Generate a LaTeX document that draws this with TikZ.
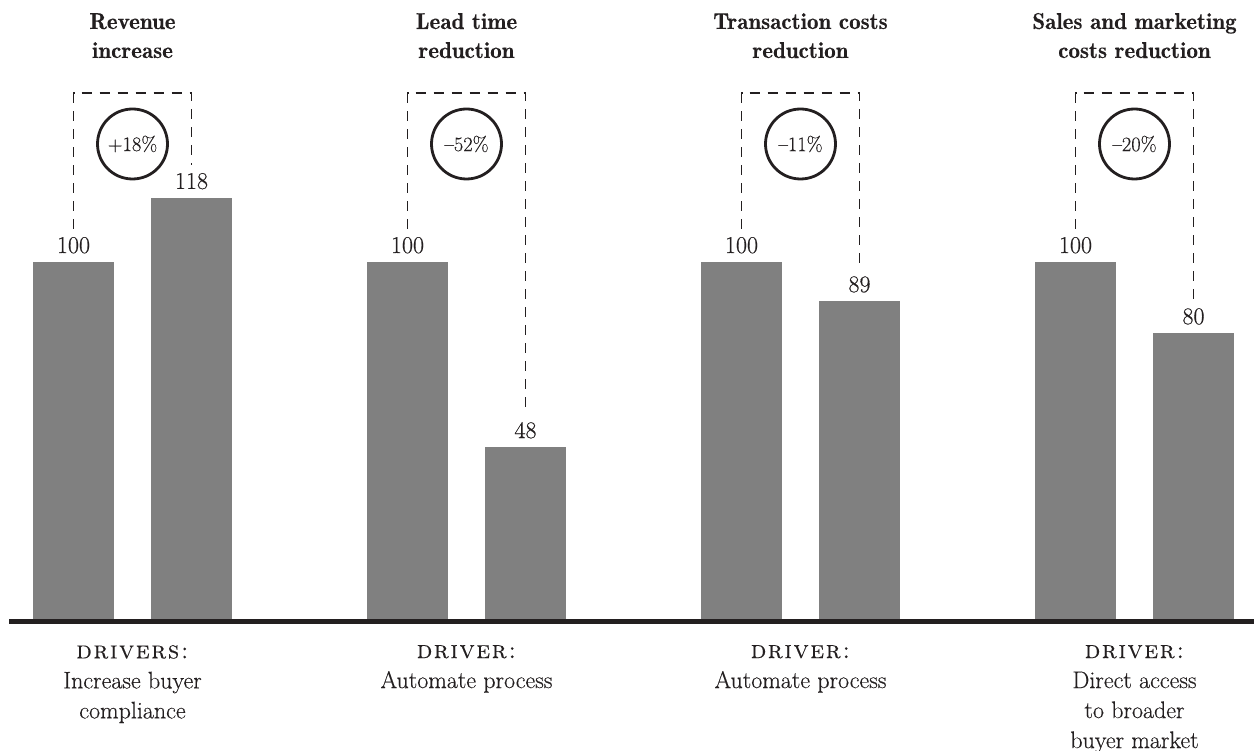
\documentclass[tikz,border=0pt]{standalone}
\usepackage{fontspec}
\setmainfont{lmroman17-regular.otf}[FakeBold=0.35]
\newfontfamily\headfont{lmromandemi10-regular.otf}[FakeBold=0.15]
\newfontfamily\capsfont{lmromancaps10-regular.otf}[LetterSpace=6,FakeBold=0.15]
\definecolor{ink}{HTML}{231F20}
\definecolor{barfill}{HTML}{808080}

\begin{document}
\begin{tikzpicture}[x=1pt,y=-1pt,
  barbox/.style={fill=barfill,draw=none},
  val/.style={anchor=base,inner sep=0pt,text=ink,font=\fontsize{24}{29}\selectfont},
  headline/.style={anchor=base,align=center,inner sep=0pt,text=ink,font=\headfont\fontsize{23}{29}\selectfont},
  pct/.style={circle,draw=ink,line width=2.8pt,minimum size=70pt,inner sep=0pt,text=ink,font=\fontsize{20.5}{26}\selectfont},
  bracket/.style={draw=ink,line width=1.3pt,dash pattern=on 10pt off 8pt},
  drivernote/.style={anchor=north,align=center,inner sep=0pt,text=ink,font=\fontsize{24}{30}\selectfont},
  axisline/.style={draw=ink,line width=5pt}]
\useasboundingbox (0,0) rectangle (1254,751);

% one group per metric: index / heading / before / after / change / driver
\foreach \i/\ttl/\va/\vb/\pc/\drv in {
  0/{Revenue\\increase}/100/118/{+18\%}/{{\capsfont\fontsize{25}{30}\selectfont drivers:}\\Increase buyer\\compliance},
  1/{Lead time\\reduction}/100/48/{–52\%}/{{\capsfont\fontsize{25}{30}\selectfont driver:}\\Automate process},
  2/{Transaction costs\\reduction}/100/89/{–11\%}/{{\capsfont\fontsize{25}{30}\selectfont driver:}\\Automate process},
  3/{Sales and marketing\\costs reduction}/100/80/{–20\%}/{{\capsfont\fontsize{25}{30}\selectfont driver:}\\Direct access\\to broader\\buyer market}}
{
  \pgfmathsetmacro{\ox}{334*\i}
  \pgfmathsetmacro{\ta}{618-3.56*\va}
  \pgfmathsetmacro{\tb}{618-3.56*\vb}
  % bars
  \fill[barbox] (33+\ox,\ta) rectangle (114+\ox,621);
  \fill[barbox] (151+\ox,\tb) rectangle (232+\ox,621);
  % value labels
  \node[val] (va\i) at (73.5+\ox,\ta-9) {\va};
  \node[val] (vb\i) at (191.5+\ox,\tb-9) {\vb};
  % heading (anchored at the baseline of its second line)
  \node[headline] (h\i) at (132.5+\ox,58) {\ttl};
  % bracket joining the two values, with the change in a circle
  \coordinate (top\i) at (132.5+\ox,93);
  \draw[bracket] ([yshift=8pt]va\i.north) |- (top\i) -| ([yshift=8pt]vb\i.north);
  \node[pct] (c\i) at (132.5+\ox,144) {\pc};
  % driver note
  \node[drivernote] (d\i) at (132.5+\ox,645) {\drv};
}

\coordinate (axL) at (9,621);
\coordinate (axR) at (1254,621);
\draw[axisline] (axL) -- (axR);
\end{tikzpicture}
\end{document}
